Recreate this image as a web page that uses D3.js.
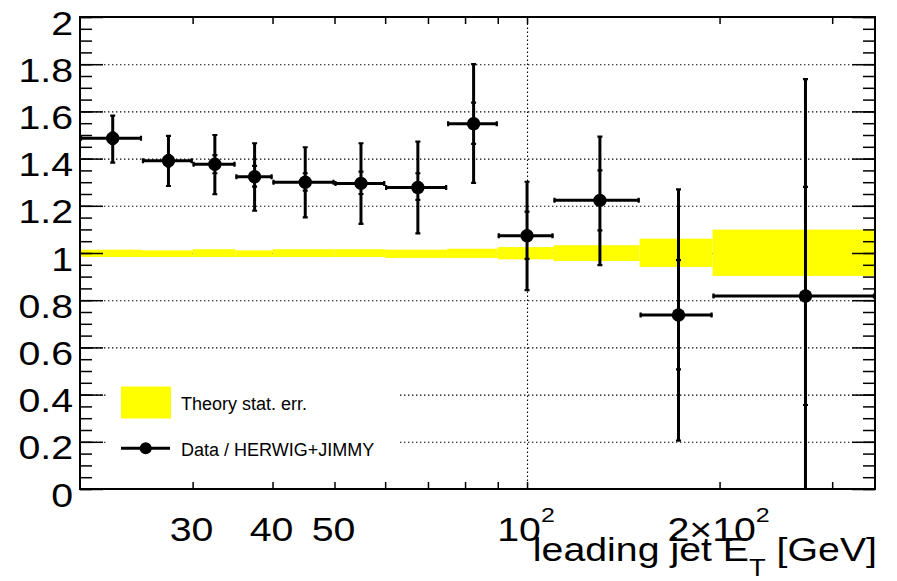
<!DOCTYPE html>
<html>
<head>
<meta charset="utf-8">
<script src="https://cdn.jsdelivr.net/npm/d3@7"></script>
<style>
  body { margin: 0; background: #fff; }
  svg { display: block; }
  text { font-family: "Liberation Sans", Arial, Helvetica, sans-serif; fill: #000; }
</style>
</head>
<body>
<svg id="chart" width="897" height="581"></svg>
<script>
// Bin edges of leading jet E_T [GeV]
const binEdges = [20, 25, 30, 35, 40, 50, 60, 75, 90, 110, 150, 195, 350];
// Data / HERWIG+JIMMY ratio per bin
const ratio   = [1.486, 1.391, 1.376, 1.323, 1.300, 1.295, 1.278, 1.548, 1.073, 1.223, 0.737, 0.818];
// Total uncertainty band edges
const totHi   = [1.582, 1.496, 1.500, 1.465, 1.448, 1.465, 1.472, 1.800, 1.302, 1.493, 1.270, 1.737];
const totLo   = [1.383, 1.284, 1.249, 1.179, 1.151, 1.123, 1.083, 1.297, 0.843, 0.949, 0.205, 0.000];
// Statistical uncertainty edges (inner ticks)
const statHi  = [1.510, 1.415, 1.415, 1.369, 1.338, 1.345, 1.338, 1.637, 1.175, 1.350, 0.970, 1.280];
const statLo  = [1.462, 1.367, 1.338, 1.281, 1.264, 1.250, 1.225, 1.462, 0.975, 1.096, 0.507, 0.356];
// Theory statistical error band
const theoryHi = [1.014, 1.011, 1.016, 1.011, 1.016, 1.016, 1.014, 1.018, 1.025, 1.033, 1.061, 1.099];
const theoryLo = [0.983, 0.983, 0.983, 0.983, 0.983, 0.983, 0.979, 0.979, 0.973, 0.966, 0.941, 0.903];

// Axis ticks and labels
const xTickValues  = [30, 40, 50, 60, 70, 80, 90, 100, 200, 300];
const xLabelValues = [30, 40, 50, 100, 200];
const xLabelBase   = ["30", "40", "50", "10", "2\u00d710"];
const xLabelExp    = ["", "", "", "2", "2"];
const yMajorTicks  = [0, 0.2, 0.4, 0.6, 0.8, 1, 1.2, 1.4, 1.6, 1.8, 2];
const yMajorLabels = ["0", "0.2", "0.4", "0.6", "0.8", "1", "1.2", "1.4", "1.6", "1.8", "2"];
const yGridValues  = [0.2, 0.4, 0.6, 0.8, 1, 1.2, 1.4, 1.6, 1.8];

const legendLabels = ["Theory stat. err.", "Data / HERWIG+JIMMY"];
const xTitle = ["leading jet E", "T", " [GeV]"];

const plotL = 80, plotR = 875, plotT = 17, plotB = 489;
const svg = d3.select("#chart");

const x = d3.scaleLog().domain([20, 350]).range([plotL, plotR]);
const y = d3.scaleLinear().domain([0, 2]).range([plotB, plotT]);

const bins = ratio.map((r, i) => ({
  lo: binEdges[i], hi: binEdges[i + 1], c: (binEdges[i] + binEdges[i + 1]) / 2,
  r, tH: totHi[i], tL: totLo[i], sH: statHi[i], sL: statLo[i],
  bH: theoryHi[i], bL: theoryLo[i]
}));

// Dotted grid
const grid = svg.append("g");
grid.append("g").attr("transform", `translate(${plotL},0)`)
  .call(d3.axisLeft(y).tickValues(yGridValues).tickSize(-(plotR - plotL)).tickFormat(""))
  .call(g => g.select(".domain").remove());
grid.append("g").attr("transform", `translate(0,${plotB})`)
  .call(d3.axisBottom(x).tickValues([100]).tickSize(-(plotB - plotT)).tickFormat(""))
  .call(g => g.select(".domain").remove());
grid.selectAll("line").attr("stroke", "#000").attr("stroke-width", 1.1)
  .attr("stroke-dasharray", "1.4 2.6");

// Theory band
svg.append("g").selectAll("rect").data(bins).join("rect")
  .attr("x", d => x(d.lo)).attr("width", d => x(d.hi) - x(d.lo))
  .attr("y", d => y(d.bH)).attr("height", d => y(d.bL) - y(d.bH))
  .attr("fill", "#ffff00");

// Legend box (covers the grid)
const leg = svg.append("g");
leg.append("rect").attr("x", 108).attr("y", 372).attr("width", 290).attr("height", 96).attr("fill", "#fff");
leg.append("rect").attr("x", 121).attr("y", 386.5).attr("width", 50).attr("height", 32).attr("fill", "#ffff00");
leg.append("text").attr("x", 181).attr("y", 410).attr("font-size", 18).text(legendLabels[0]);
leg.append("line").attr("x1", 121).attr("x2", 170).attr("y1", 448.3).attr("y2", 448.3)
  .attr("stroke", "#000").attr("stroke-width", 3);
leg.append("circle").attr("cx", 145.7).attr("cy", 448.3).attr("r", 6).attr("fill", "#000");
leg.append("text").attr("x", 181).attr("y", 455.7).attr("font-size", 18).text(legendLabels[1]);

// Axes ticks
const axes = svg.append("g");
const yMinor = d3.range(0, 2.0001, 0.05);
axes.append("g").attr("transform", `translate(${plotL},0)`)
  .call(d3.axisLeft(y).tickValues(yMinor).tickSize(-12).tickFormat(""));
axes.append("g").attr("transform", `translate(${plotR},0)`)
  .call(d3.axisRight(y).tickValues(yMinor).tickSize(-12).tickFormat(""));
axes.append("g").attr("transform", `translate(${plotR},0)`)
  .call(d3.axisRight(y).tickValues(yMajorTicks).tickSize(-23).tickFormat(""));
axes.append("g").attr("transform", `translate(0,${plotT})`)
  .call(d3.axisTop(x).tickValues(xTickValues).tickSize(-7).tickFormat(""));

// Left axis with labels
const yAxisG = axes.append("g").attr("transform", `translate(${plotL},0)`)
  .call(d3.axisLeft(y).tickValues(yMajorTicks).tickSize(-23).tickPadding(7)
    .tickFormat((d, i) => yMajorLabels[i]));
yAxisG.selectAll("text")
  .attr("x", 0).attr("y", 0).attr("dy", null)
  .attr("transform", "translate(-7,17) scale(1.19,1)")
  .attr("font-size", 33).attr("text-anchor", "end");

// Bottom axis with labels
const xAxisG = axes.append("g").attr("transform", `translate(0,${plotB})`)
  .call(d3.axisBottom(x).tickValues(xTickValues).tickSize(-7).tickFormat(() => ""));
xAxisG.selectAll(".tick").each(function(d) {
  const i = xLabelValues.indexOf(d);
  const t = d3.select(this).select("text");
  if (i < 0) { t.remove(); return; }
  t.text(null).attr("x", 0).attr("y", 0).attr("dy", null)
    .attr("transform", "translate(-1.5,52) scale(1.19,1)")
    .attr("font-size", 33).attr("text-anchor", "middle");
  t.append("tspan").text(xLabelBase[i]);
  if (xLabelExp[i]) t.append("tspan").attr("dy", -19).attr("font-size", 21).text(xLabelExp[i]);
});
axes.selectAll(".domain").remove();
axes.selectAll(".tick line").attr("stroke", "#000").attr("stroke-width", 1.5);

// Frame
svg.append("rect").attr("x", plotL).attr("y", plotT).attr("width", plotR - plotL).attr("height", plotB - plotT)
  .attr("fill", "none").attr("stroke", "#000").attr("stroke-width", 2);

// X-axis title
const xt = svg.append("text").attr("transform", "translate(877,561) scale(1.19,1)")
  .attr("text-anchor", "end").attr("font-size", 33);
xt.append("tspan").text(xTitle[0]);
xt.append("tspan").attr("dy", 15).attr("font-size", 23).text(xTitle[1]);
xt.append("tspan").attr("dy", -15).text(xTitle[2]);

// Data points with error bars
const pts = svg.append("g").attr("stroke", "#000").attr("fill", "#000");
const pg = pts.selectAll("g").data(bins).join("g");
pg.append("line").attr("x1", d => x(d.lo)).attr("x2", d => x(d.hi))
  .attr("y1", d => y(d.r)).attr("y2", d => y(d.r)).attr("stroke-width", 3);
pg.append("line").attr("x1", d => x(d.c)).attr("x2", d => x(d.c))
  .attr("y1", d => y(d.tH)).attr("y2", d => y(d.tL)).attr("stroke-width", 3);
// End caps
pg.append("path").attr("stroke-width", 2.2).attr("fill", "none")
  .attr("d", d => {
    const cx = x(d.c), cy = y(d.r), c = 2.5;
    const xs = [x(d.lo) + 1, x(d.hi) - 1];
    let p = "";
    xs.forEach(xx => { p += `M${xx},${cy - c}V${cy + c}`; });
    [d.tH, d.tL, d.sH, d.sL].forEach(v => { const yy = y(v); p += `M${cx - c},${yy}H${cx + c}`; });
    return p;
  });
pg.append("circle").attr("cx", d => x(d.c)).attr("cy", d => y(d.r)).attr("r", 6.7).attr("stroke", "none");
</script>
</body>
</html>
